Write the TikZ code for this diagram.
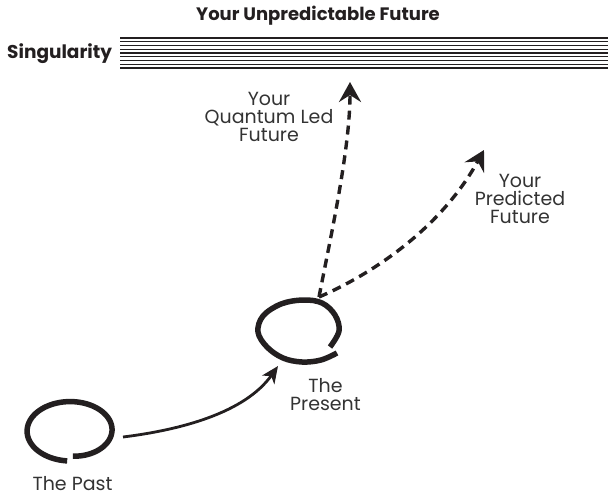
\documentclass[tikz,border=0pt]{standalone}
\usepackage{fontspec}
\setmainfont{Poppins}
\usetikzlibrary{arrows.meta}
\definecolor{ink}{HTML}{231F20}
\definecolor{txt}{HTML}{333333}
\begin{document}
\begin{tikzpicture}[x=1pt,y=-1pt,
  lbl/.style={text=txt, font=\fontsize{19}{18}\selectfont, align=center, inner sep=0pt},
  hdr/.style={text=ink, font=\fontsize{18}{19}\selectfont\bfseries, inner sep=0pt},
  loopline/.style={draw=ink, line width=5.5pt},
  barline/.style={draw=ink, line width=1.1pt},
  solidarrow/.style={draw=ink, line width=2.8pt, -{Stealth[length=17pt,width=15pt,inset=5pt]}},
  dasharrow/.style={draw=ink, line width=3.4pt, dash pattern=on 9pt off 6pt, -{Stealth[length=20pt,width=22pt,inset=7pt]}},
]
\useasboundingbox (0,0) rectangle (611,503);
\node[hdr, anchor=base] (title) at (318,21) {Your Unpredictable Future};
\node[hdr, anchor=base west, font=\fontsize{18.5}{19}\selectfont\bfseries] (sing) at (7,59) {Singularity};
\foreach \i in {0,...,8} {
  \draw[barline] (120,38+3.75*\i) -- (608,38+3.75*\i);
}
% past loop
\draw[loopline] plot[domain=95:447, samples=150, smooth]
  ({71+44*(1-0.16*((\x-95)/352)^3)*cos(\x)}, {431+30*(1-0.16*((\x-95)/352)^3)*sin(\x)});
% present loop
\draw[loopline] plot[smooth, tension=0.6] coordinates {
  (337,353) (321,360) (302,362) (283,358) (267,347) (258,332) (263,316)
  (281,304) (303,300) (322,303) (335,315) (339,331) (330,347)};
\node[lbl, anchor=base] (quantum) at (269,142) {Your\\Quantum Led\\Future};
\node[lbl, anchor=base] (predicted) at (520,223) {Your\\Predicted\\Future};
\node[lbl, anchor=base] (presentlbl) at (325.5,410) {The\\Present};
\node[lbl, anchor=base] (pastlbl) at (72.5,490) {The Past};
\coordinate (pastout) at (123,437);
\coordinate (presentin) at (278,366);
\coordinate (presenttop) at (319,297);
\coordinate (qtip) at (350,82);
\coordinate (ptip) at (484,150);
\draw[solidarrow] (pastout) .. controls (180,430) and (245,413) .. (presentin);
\draw[dasharrow] (presenttop) .. controls (330,240) and (350,150) .. (qtip);
\draw[dasharrow] (presenttop) .. controls (370,275) and (440,230) .. (ptip);
\end{tikzpicture}
\end{document}
